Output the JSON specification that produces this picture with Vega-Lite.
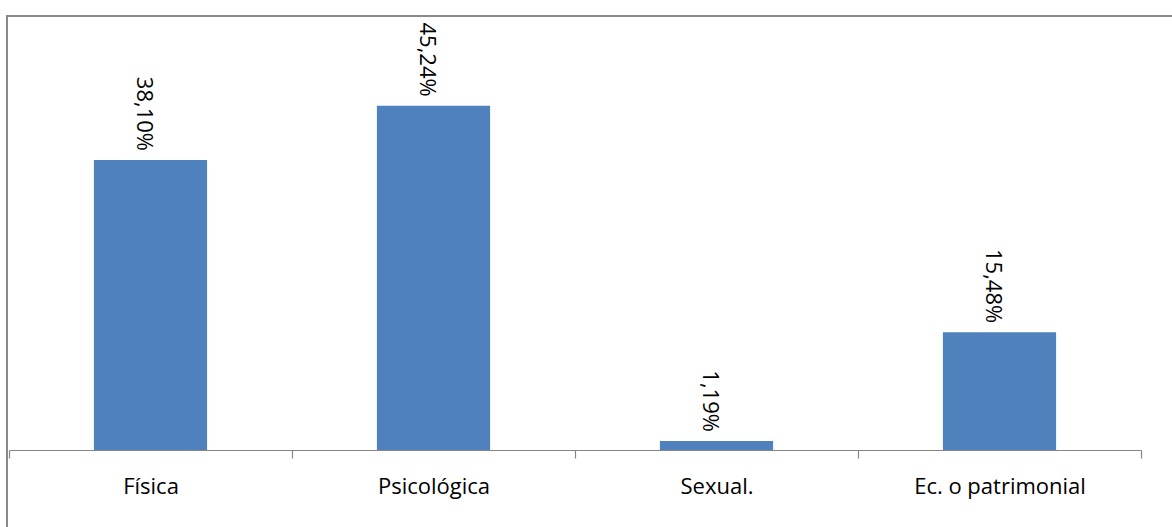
{
  "$schema": "https://vega.github.io/schema/vega-lite/v6.json",
  "width": 1168,
  "height": 514,
  "autosize": "none",
  "padding": {"left": 7, "top": 16, "right": 0, "bottom": 0},
  "background": "white",
  "config": {
    "view": {"stroke": "#8a8a8a", "strokeWidth": 2},
    "font": "Open Sans"
  },
  "data": {
    "values": [
      {"tipo": "Física", "pct": 38.10, "etiqueta": "38,10%"},
      {"tipo": "Psicológica", "pct": 45.24, "etiqueta": "45,24%"},
      {"tipo": "Sexual.", "pct": 1.19, "etiqueta": "1,19%"},
      {"tipo": "Ec. o patrimonial", "pct": 15.48, "etiqueta": "15,48%"}
    ]
  },
  "encoding": {
    "x": {
      "field": "tipo",
      "type": "nominal",
      "sort": null,
      "scale": {"range": [2, 1134], "paddingInner": 0, "paddingOuter": 0},
      "axis": {
        "title": null,
        "orient": "bottom",
        "offset": -80,
        "tickBand": "extent",
        "tickSize": 8,
        "tickColor": "#868686",
        "domainColor": "#868686",
        "domainWidth": 1.2,
        "tickWidth": 1.2,
        "labelAngle": 0,
        "labelFont": "Open Sans",
        "labelFontSize": 22,
        "labelColor": "#000000",
        "labelBaseline": "alphabetic",
        "labelPadding": 35,
        "grid": false
      }
    },
    "y": {
      "field": "pct",
      "type": "quantitative",
      "scale": {"domain": [0, 50], "range": [434, 53.5], "nice": false},
      "axis": null
    }
  },
  "layer": [
    {"mark": {"type": "bar", "color": "#4F81BD", "width": {"band": 0.4}}},
    {
      "mark": {
        "type": "text",
        "angle": 90,
        "align": "right",
        "baseline": "middle",
        "dy": 6.5,
        "dx": -9,
        "fontSize": 22,
        "font": "Open Sans",
        "color": "#000000"
      },
      "encoding": {"text": {"field": "etiqueta"}}
    }
  ]
}
